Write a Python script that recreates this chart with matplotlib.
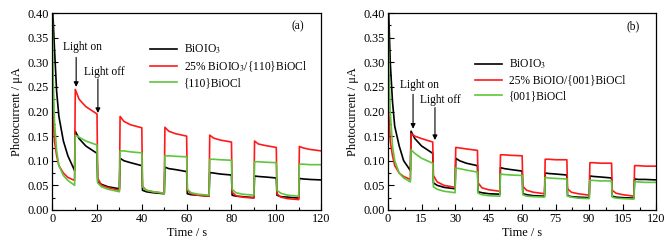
import numpy as np
import matplotlib.pyplot as plt

plt.rcParams['font.family'] = ['Liberation Serif', 'DejaVu Serif']
plt.rcParams['mathtext.fontset'] = 'stix'

# sample times: initial decay, then each 10 s light on/off segment
t_init = [0, 0.3, 1, 2, 3, 5, 7, 10]
seg_starts = [10, 20, 30, 40, 50, 60, 70, 80, 90, 100, 110]
seg_offsets = [0.3, 2, 5, 10]

# panel (a)
a_black = [0.45, 0.40, 0.33, 0.24, 0.19, 0.14, 0.11, 0.08,
           0.16, 0.145, 0.13, 0.115,
           0.058, 0.052, 0.047, 0.043,
           0.105, 0.10, 0.096, 0.09,
           0.04, 0.037, 0.035, 0.033,
           0.087, 0.084, 0.082, 0.078,
           0.033, 0.031, 0.03, 0.028,
           0.076, 0.075, 0.073, 0.071,
           0.03, 0.028, 0.027, 0.025,
           0.069, 0.068, 0.067, 0.065,
           0.03, 0.027, 0.026, 0.024,
           0.064, 0.063, 0.062, 0.061]
a_red = [0.30, 0.20, 0.14, 0.11, 0.09, 0.075, 0.066, 0.06,
         0.245, 0.225, 0.21, 0.195,
         0.065, 0.05, 0.045, 0.04,
         0.19, 0.18, 0.173, 0.167,
         0.048, 0.04, 0.037, 0.034,
         0.168, 0.16, 0.155, 0.15,
         0.04, 0.033, 0.03, 0.028,
         0.152, 0.146, 0.142, 0.138,
         0.036, 0.029, 0.026, 0.024,
         0.14, 0.134, 0.131, 0.127,
         0.033, 0.026, 0.023, 0.021,
         0.129, 0.126, 0.123, 0.12]
a_green = [0.42, 0.30, 0.18, 0.12, 0.09, 0.07, 0.06, 0.05,
           0.152, 0.148, 0.14, 0.132,
           0.055, 0.047, 0.042, 0.037,
           0.12, 0.12, 0.118, 0.116,
           0.047, 0.04, 0.037, 0.034,
           0.11, 0.11, 0.109, 0.108,
           0.042, 0.035, 0.032, 0.03,
           0.103, 0.103, 0.102, 0.101,
           0.042, 0.035, 0.032, 0.03,
           0.098, 0.098, 0.097, 0.096,
           0.04, 0.034, 0.03, 0.028,
           0.093, 0.093, 0.092, 0.092]

# panel (b)
b_black = [0.45, 0.40, 0.30, 0.22, 0.17, 0.13, 0.10, 0.08,
           0.16, 0.145, 0.13, 0.115,
           0.055, 0.05, 0.046, 0.043,
           0.105, 0.10, 0.095, 0.09,
           0.037, 0.035, 0.033, 0.032,
           0.086, 0.084, 0.082, 0.079,
           0.033, 0.031, 0.029, 0.028,
           0.075, 0.074, 0.073, 0.071,
           0.029, 0.027, 0.026, 0.025,
           0.069, 0.068, 0.067, 0.065,
           0.028, 0.026, 0.025, 0.024,
           0.063, 0.062, 0.062, 0.061]
b_red = [0.33, 0.20, 0.14, 0.11, 0.09, 0.075, 0.068, 0.062,
         0.155, 0.15, 0.145, 0.138,
         0.07, 0.057, 0.05, 0.046,
         0.127, 0.126, 0.124, 0.121,
         0.055, 0.045, 0.041, 0.038,
         0.112, 0.112, 0.111, 0.11,
         0.048, 0.04, 0.036, 0.033,
         0.103, 0.103, 0.102, 0.102,
         0.043, 0.036, 0.033, 0.03,
         0.096, 0.096, 0.095, 0.095,
         0.04, 0.034, 0.031, 0.028,
         0.09, 0.09, 0.089, 0.089]
b_green = [0.42, 0.30, 0.20, 0.13, 0.10, 0.075, 0.065, 0.057,
           0.122, 0.115, 0.105, 0.095,
           0.047, 0.042, 0.038, 0.035,
           0.085, 0.084, 0.081, 0.077,
           0.034, 0.031, 0.029, 0.028,
           0.073, 0.072, 0.071, 0.07,
           0.031, 0.028, 0.027, 0.026,
           0.066, 0.065, 0.064, 0.063,
           0.028, 0.026, 0.024, 0.023,
           0.06, 0.06, 0.059, 0.059,
           0.026, 0.024, 0.023, 0.022,
           0.057, 0.057, 0.056, 0.056]

t = list(t_init)
for s in seg_starts:
    t += [s + o for o in seg_offsets]
t = np.array(t)

labels_a = [r'BiOIO$_3$', r'25% BiOIO$_3$/{110}BiOCl', '{110}BiOCl']
labels_b = [r'BiOIO$_3$', '25% BiOIO/{001}BiOCl', '{001}BiOCl']
colors = ['black', '#ff1a1a', '#5ec63c']

fig = plt.figure(figsize=(6.69, 2.47), dpi=100)
ax1 = fig.add_axes([0.078, 0.150, 0.402, 0.797])
ax2 = fig.add_axes([0.580, 0.150, 0.401, 0.797])

fs = 8.3


def draw(ax, series, labels, xticks, tag, leg_pos, on_txt, on_arr, off_txt, off_arr):
    for y, lab, c in zip(series, labels, colors):
        ax.plot(t, y, color=c, lw=1.2, label=lab)
    ax.set_xlim(0, 120)
    ax.set_ylim(0, 0.40)
    ax.set_xticks(xticks)
    ax.set_xticks([(xticks[i] + xticks[i + 1]) / 2 for i in range(len(xticks) - 1)], minor=True)
    ax.set_yticks(np.arange(0, 0.41, 0.05))
    ax.set_yticks(np.arange(0.025, 0.40, 0.05), minor=True)
    ax.yaxis.set_major_formatter(plt.FormatStrFormatter('%.2f'))
    ax.tick_params(direction='in', length=4, width=0.8, labelsize=fs + 0.5, pad=2.5)
    ax.tick_params(which='minor', direction='in', length=2.5, width=0.8)
    for sp in ax.spines.values():
        sp.set_linewidth(0.9)
    ax.set_xlabel('Time / s', fontsize=fs + 0.5, labelpad=1)
    ax.set_ylabel('Photocurrent / μA', fontsize=fs + 0.5, labelpad=3)
    ax.text(0.915, 0.934, tag, transform=ax.transAxes, fontsize=fs, ha='center', va='center')
    ax.legend(loc='upper left', bbox_to_anchor=leg_pos, frameon=False, fontsize=fs,
              handlelength=2.3, handletextpad=0.6, labelspacing=0.3, borderaxespad=0,
              borderpad=0)
    ax.text(on_txt[0], on_txt[1], 'Light on', fontsize=fs, ha='center', va='center')
    ax.text(off_txt[0], off_txt[1], 'Light off', fontsize=fs, ha='center', va='center')
    for x, y0, y1 in (on_arr, off_arr):
        ax.annotate('', xy=(x, y1), xytext=(x, y0),
                    arrowprops=dict(arrowstyle='-|>', color='black', lw=0.8,
                                    mutation_scale=7, shrinkA=0, shrinkB=0))


draw(ax1, [a_black, a_red, a_green], labels_a, [0, 20, 40, 60, 80, 100, 120], '(a)',
     (0.364, 0.85), (13.6, 0.331), (10.7, 0.31, 0.25), (23.2, 0.28), (20.4, 0.266, 0.197))
draw(ax2, [b_black, b_red, b_green], labels_b, [0, 15, 30, 45, 60, 75, 90, 105, 120], '(b)',
     (0.325, 0.773), (14.3, 0.254), (11.2, 0.235, 0.165), (23.3, 0.223), (21.0, 0.208, 0.142))

fig.savefig('out.png', dpi=100)
